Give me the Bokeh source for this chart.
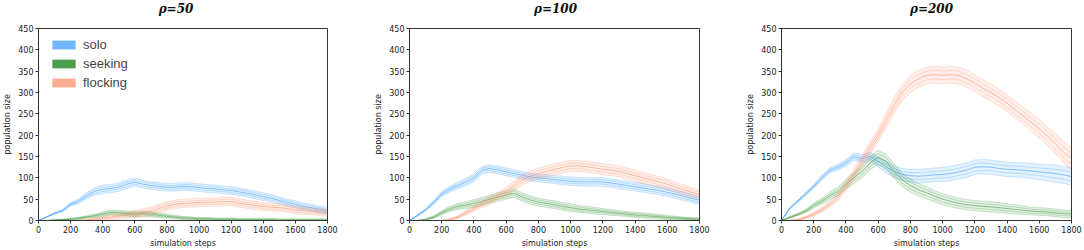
from bokeh.plotting import figure
from bokeh.layouts import row
from bokeh.models import Legend, LegendItem, FixedTicker, Range1d, ColumnDataSource, Label
from bokeh.embed import file_html
from bokeh.resources import INLINE

steps = list(range(0, 1801, 50))
titles = ["ρ=50", "ρ=100", "ρ=200"]
categories = ["solo", "seeking", "flocking"]
x_ticks = list(range(0, 1801, 200))
y_ticks = list(range(0, 451, 50))

# rho = 50
solo_50 = [0, 8, 17, 23, 38, 45, 58, 68, 73, 75, 78, 85, 90, 85, 82, 80, 78, 78, 80, 79, 77, 75, 74, 72, 70, 67, 64, 60, 56, 52, 47, 42, 38, 33, 30, 26, 22]
solo_50_spread = [0, 1, 2, 3, 4, 6, 7, 9, 10, 10, 10, 10, 10, 9, 9, 9, 9, 9, 9, 9, 9, 9, 9, 9, 9, 9, 9, 9, 9, 9, 8, 8, 8, 8, 8, 8, 8]
seeking_50 = [0, 0, 1, 2, 3, 5, 8, 11, 15, 19, 18, 16, 15, 16, 15, 12, 10, 8, 6, 5, 4, 4, 3, 3, 3, 2, 2, 2, 2, 2, 1, 1, 1, 1, 1, 1, 1]
seeking_50_spread = [0, 0, 1, 1, 2, 3, 3, 4, 5, 6, 6, 6, 6, 6, 6, 5, 5, 4, 4, 4, 3, 3, 3, 3, 3, 3, 3, 3, 3, 3, 3, 3, 3, 3, 3, 3, 3]
flocking_50 = [0, 0, 0, 0, 0, 0, 1, 3, 5, 8, 10, 12, 15, 18, 22, 28, 34, 38, 40, 41, 42, 43, 43, 44, 45, 41, 38, 35, 33, 31, 30, 28, 25, 23, 22, 20, 18]
flocking_50_spread = [0, 0, 0, 0, 0, 0, 1, 3, 4, 6, 7, 8, 9, 9, 10, 10, 10, 10, 10, 10, 10, 10, 10, 10, 10, 10, 10, 10, 9, 9, 9, 9, 9, 9, 8, 8, 8]

# rho = 100
solo_100 = [0, 12, 25, 42, 62, 73, 82, 90, 100, 118, 122, 118, 114, 110, 106, 102, 100, 98, 96, 94, 92, 91, 90, 91, 90, 88, 85, 82, 79, 76, 73, 70, 66, 62, 57, 52, 48]
solo_100_spread = [0, 2, 3, 5, 6, 7, 8, 9, 9, 9, 9, 9, 9, 9, 9, 9, 9, 9, 9, 10, 10, 10, 10, 10, 10, 10, 10, 10, 10, 10, 10, 10, 10, 10, 10, 10, 10]
seeking_100 = [0, 0, 2, 8, 18, 27, 33, 36, 40, 45, 50, 55, 60, 64, 55, 48, 43, 40, 37, 33, 30, 27, 25, 23, 21, 19, 17, 15, 13, 12, 10, 9, 7, 6, 5, 4, 3]
seeking_100_spread = [0, 0, 2, 3, 5, 6, 7, 8, 9, 9, 9, 10, 10, 10, 10, 10, 9, 9, 9, 9, 9, 8, 8, 8, 7, 7, 6, 6, 6, 6, 6, 5, 5, 4, 3, 3, 3]
flocking_100 = [0, 0, 0, 0, 0, 2, 8, 18, 28, 38, 47, 58, 68, 82, 95, 104, 110, 115, 120, 124, 128, 128, 126, 123, 120, 118, 115, 110, 105, 100, 95, 90, 85, 78, 72, 66, 62]
flocking_100_spread = [0, 0, 0, 0, 0, 2, 3, 5, 6, 8, 9, 9, 10, 11, 12, 12, 13, 13, 13, 13, 13, 13, 13, 13, 13, 13, 13, 13, 13, 13, 13, 13, 12, 12, 12, 11, 10]

# rho = 200
solo_200 = [0, 28, 45, 62, 80, 100, 118, 125, 135, 150, 145, 150, 138, 125, 115, 108, 105, 104, 105, 107, 108, 110, 114, 118, 125, 126, 125, 122, 120, 119, 118, 116, 114, 112, 110, 107, 103]
solo_200_spread = [0, 2, 3, 4, 5, 6, 6, 7, 8, 9, 9, 10, 12, 13, 14, 14, 15, 16, 16, 16, 17, 17, 17, 17, 17, 17, 17, 17, 17, 17, 17, 18, 18, 19, 20, 20, 21]
seeking_200 = [0, 7, 14, 22, 35, 45, 58, 68, 85, 100, 115, 135, 148, 138, 115, 95, 82, 72, 65, 57, 50, 45, 40, 37, 35, 33, 32, 30, 28, 26, 24, 22, 21, 20, 18, 16, 15]
seeking_200_spread = [0, 2, 3, 4, 6, 7, 9, 10, 12, 13, 15, 16, 17, 17, 17, 16, 15, 15, 14, 13, 13, 13, 12, 12, 12, 12, 12, 12, 11, 11, 10, 9, 9, 9, 9, 9, 9]
flocking_200 = [0, 0, 2, 7, 15, 25, 38, 55, 80, 108, 140, 170, 200, 235, 270, 300, 320, 332, 340, 342, 340, 342, 340, 332, 322, 310, 300, 288, 275, 260, 245, 230, 215, 198, 180, 160, 145]
flocking_200_spread = [0, 0, 2, 3, 4, 6, 7, 9, 10, 12, 13, 15, 15, 17, 18, 19, 20, 20, 20, 20, 20, 20, 20, 20, 20, 20, 20, 20, 20, 20, 20, 22, 22, 22, 24, 25, 26]

panels = [
    [(solo_50, solo_50_spread), (seeking_50, seeking_50_spread), (flocking_50, flocking_50_spread)],
    [(solo_100, solo_100_spread), (seeking_100, seeking_100_spread), (flocking_100, flocking_100_spread)],
    [(solo_200, solo_200_spread), (seeking_200, seeking_200_spread), (flocking_200, flocking_200_spread)],
]

line_colors = ["#1e90ff", "#1f8a1f", "#ff7f50"]
patch_colors = ["#72b5ff", "#4c9f4c", "#ffab91"]

widths = [361, 361, 362]
lefts = [37, 48, 59]
rights = [34, 23, 13]
title_shift = [-7, 1, 5]
X0, X1, Y0, Y1 = 0, 1800, 0, 450

figs = []
for i, (title, series) in enumerate(zip(titles, panels)):
    p = figure(width=widths[i], height=250, output_backend="svg", toolbar_location=None,
               x_range=Range1d(X0, X1), y_range=Range1d(Y0, Y1),
               min_border_left=lefts[i], min_border_right=rights[i],
               min_border_top=28, min_border_bottom=29)
    p.title.visible = False
    p.add_layout(Label(x=(X0 + X1) / 2, y=Y1, x_offset=title_shift[i], y_offset=20,
                       text=title, text_align="center", text_baseline="middle",
                       text_font="DejaVu Serif", text_font_style="bold italic",
                       text_font_size="12px", text_color="#111111"), "above")
    p.xgrid.visible = False
    p.ygrid.visible = False
    p.outline_line_color = "#333333"
    p.outline_line_width = 1
    p.background_fill_color = "white"
    p.border_fill_color = "white"
    for ax in (p.xaxis[0], p.yaxis[0]):
        ax.major_label_text_font = "DejaVu Sans"
        ax.major_label_text_font_size = "8px"
        ax.major_label_text_color = "#222222"
        ax.axis_label_text_font = "DejaVu Sans"
        ax.axis_label_text_font_size = "8px"
        ax.axis_label_text_font_style = "normal"
        ax.axis_label_text_color = "#222222"
        ax.axis_line_color = "#333333"
        ax.major_tick_line_color = "#333333"
        ax.major_tick_out = 3
        ax.major_tick_in = 0
        ax.minor_tick_line_color = None
        ax.axis_label_standoff = 3
        ax.major_label_standoff = 2
    p.xaxis.ticker = FixedTicker(ticks=x_ticks)
    p.yaxis.ticker = FixedTicker(ticks=y_ticks)
    p.xaxis.axis_label = "simulation steps"
    p.yaxis.axis_label = "population size"

    legend_renderers = []
    for (mean, spread), lc, pc in zip(series, line_colors, patch_colors):
        lo = [max(m - s, 0) for m, s in zip(mean, spread)]
        hi = [m + s for m, s in zip(mean, spread)]
        mlo = [max(m - s / 2, 0) for m, s in zip(mean, spread)]
        mhi = [m + s / 2 for m, s in zip(mean, spread)]
        src = ColumnDataSource(dict(x=steps, lo=lo, hi=hi, mean=mean, mlo=mlo, mhi=mhi))
        p.varea(x="x", y1="lo", y2="hi", source=src, fill_color=lc, fill_alpha=0.12)
        for col in ("lo", "hi"):
            p.line(x="x", y=col, source=src, line_color=lc, line_alpha=0.25, line_width=0.8)
        for col in ("mlo", "mhi"):
            p.line(x="x", y=col, source=src, line_color=lc, line_alpha=0.3, line_width=0.8)
        p.line(x="x", y="mean", source=src, line_color=lc, line_alpha=0.5, line_width=1)
        lr = p.varea(x="x", y1="lo", y2="hi", source=src, fill_color=pc, fill_alpha=1.0)
        lr.visible = False
        legend_renderers.append(lr)

    if i == 0:
        items = [LegendItem(label=cat, renderers=[r]) for cat, r in zip(categories, legend_renderers)]
        leg = Legend(items=items, location=(5, 123), padding=6, margin=0,
                     glyph_width=29, glyph_height=11, label_height=18, spacing=1,
                     label_standoff=5, label_text_font="Liberation Sans",
                     label_text_font_size="13px", border_line_alpha=0,
                     background_fill_alpha=0, inactive_fill_alpha=0)
        p.add_layout(leg, "center")
    figs.append(p)

layout = row(*figs, spacing=0)
open("out.html", "w").write(file_html(layout, INLINE))
